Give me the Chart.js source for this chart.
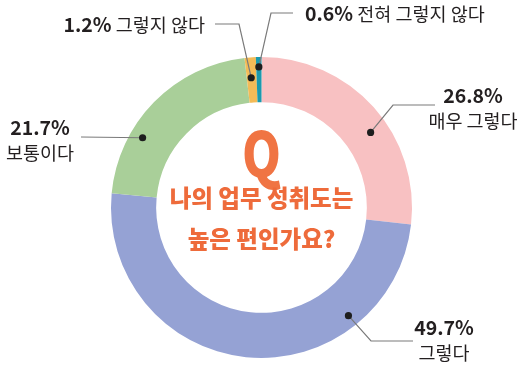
<!DOCTYPE html>
<html>
<head>
<meta charset="utf-8">
<script src="https://cdn.jsdelivr.net/npm/chart.js@4/dist/chart.umd.min.js"></script>
<style>
  html, body { margin: 0; padding: 0; background: #fff; }
  #wrap { width: 525px; height: 373px; }
</style>
</head>
<body>
<div id="wrap"><canvas id="myChart"></canvas></div>
<script>
// answers + share in percent, clockwise from 12 o'clock
const categories = ['매우 그렇다', '그렇다', '보통이다', '그렇지 않다', '전혀 그렇지 않다']
const values = [26.8, 49.7, 21.7, 1.2, 0.6]
const questionLines = ['나의 업무 성취도는', '높은 편인가요?']

const sliceColors = ['#f8c1c2', '#95a2d4', '#a9cf99', '#f3bb57', '#1b9aae']
const FONT = '"Noto Sans CJK KR", "Noto Sans", sans-serif'

// where each callout sits (dot position is a fraction along the slice / ring)
const callouts = [
    { along: 0.575, depth: 0.6, path: [[393, 105], [435, 105]], x: 473, y: 96, lines: 2 },
    { along: 0.25, depth: 0.74, path: [[371, 341], [413, 341]], x: 444, y: 328, lines: 2 },
    { along: 0.32, depth: 0.72, path: [[81, 137]], x: 40, y: 128, lines: 2 },
    { along: 0.45, depth: 0.55, path: [[239, 24], [215, 24]], x: 205, y: 25, lines: 1, align: 'right' },
    { along: 0.5, depth: 0.78, path: [[271, 13], [293, 13]], x: 305, y: 14, lines: 1, align: 'left' },
]

const calloutPlugin = {
    id: 'callouts',
    afterDraw(chart) {
        const ctx = chart.ctx
        const arcs = chart.getDatasetMeta(0).data
        ctx.save()
        arcs.forEach((arc, i) => {
            const c = callouts[i]
            const p = arc.getProps(['x', 'y', 'startAngle', 'endAngle', 'innerRadius', 'outerRadius'], true)
            const a = p.startAngle + c.along * (p.endAngle - p.startAngle)
            const r = p.innerRadius + c.depth * (p.outerRadius - p.innerRadius)
            const dx = p.x + r * Math.cos(a)
            const dy = p.y + r * Math.sin(a)

            ctx.strokeStyle = '#7a7a7a'
            ctx.lineWidth = 1.2
            ctx.beginPath()
            ctx.moveTo(dx, dy)
            c.path.forEach(pt => ctx.lineTo(pt[0], pt[1]))
            ctx.stroke()

            ctx.fillStyle = '#1e1e1e'
            ctx.beginPath()
            ctx.arc(dx, dy, 3.6, 0, Math.PI * 2)
            ctx.fill()

            const pct = values[i].toFixed(1) + '%'
            ctx.fillStyle = '#231f20'
            ctx.textBaseline = 'middle'
            if (c.lines == 2) {
                ctx.textAlign = 'center'
                ctx.font = 'bold 19.5px ' + FONT
                ctx.fillText(pct, c.x, c.y)
                ctx.font = '18.5px ' + FONT
                ctx.fillText(categories[i], c.x, c.y + 25)
            } else {
                ctx.textAlign = 'left'
                ctx.font = 'bold 19.5px ' + FONT
                const w1 = ctx.measureText(pct).width
                ctx.font = '18.5px ' + FONT
                const rest = ' ' + categories[i]
                const w2 = ctx.measureText(rest).width
                const x0 = c.align == 'right' ? c.x - w1 - w2 : c.x
                ctx.font = 'bold 19.5px ' + FONT
                ctx.fillText(pct, x0, c.y)
                ctx.font = '18.5px ' + FONT
                ctx.fillText(rest, x0 + w1, c.y)
            }
        })

        // question in the hole
        const cx = arcs[0].x
        const cy = arcs[0].y
        ctx.fillStyle = '#f07443'
        ctx.textAlign = 'center'
        ctx.textBaseline = 'middle'
        ctx.save()
        ctx.translate(cx, cy - 54)
        ctx.scale(0.8, 1)
        ctx.font = '900 62px ' + FONT
        ctx.fillText('Q', 0, 0)
        ctx.restore()
        ctx.fillStyle = '#ee6b3b'
        ctx.font = '900 23.5px ' + FONT
        ctx.fillText(questionLines[0], cx, cy - 9)
        ctx.fillText(questionLines[1], cx, cy + 32)
        ctx.restore()
    }
}

new Chart(document.querySelector('#myChart'), {
    type: 'doughnut',
    data: {
        labels: categories,
        datasets: [{
            data: values,
            backgroundColor: sliceColors,
            borderWidth: 0,
        }]
    },
    options: {
        responsive: true,
        maintainAspectRatio: false,
        animation: false,
        cutout: '70%',
        layout: { padding: { top: 57, bottom: 15, left: 0, right: 2 } },
        plugins: {
            legend: { display: false },
            tooltip: { enabled: false },
        }
    },
    plugins: [calloutPlugin]
})
</script>
</body>
</html>
